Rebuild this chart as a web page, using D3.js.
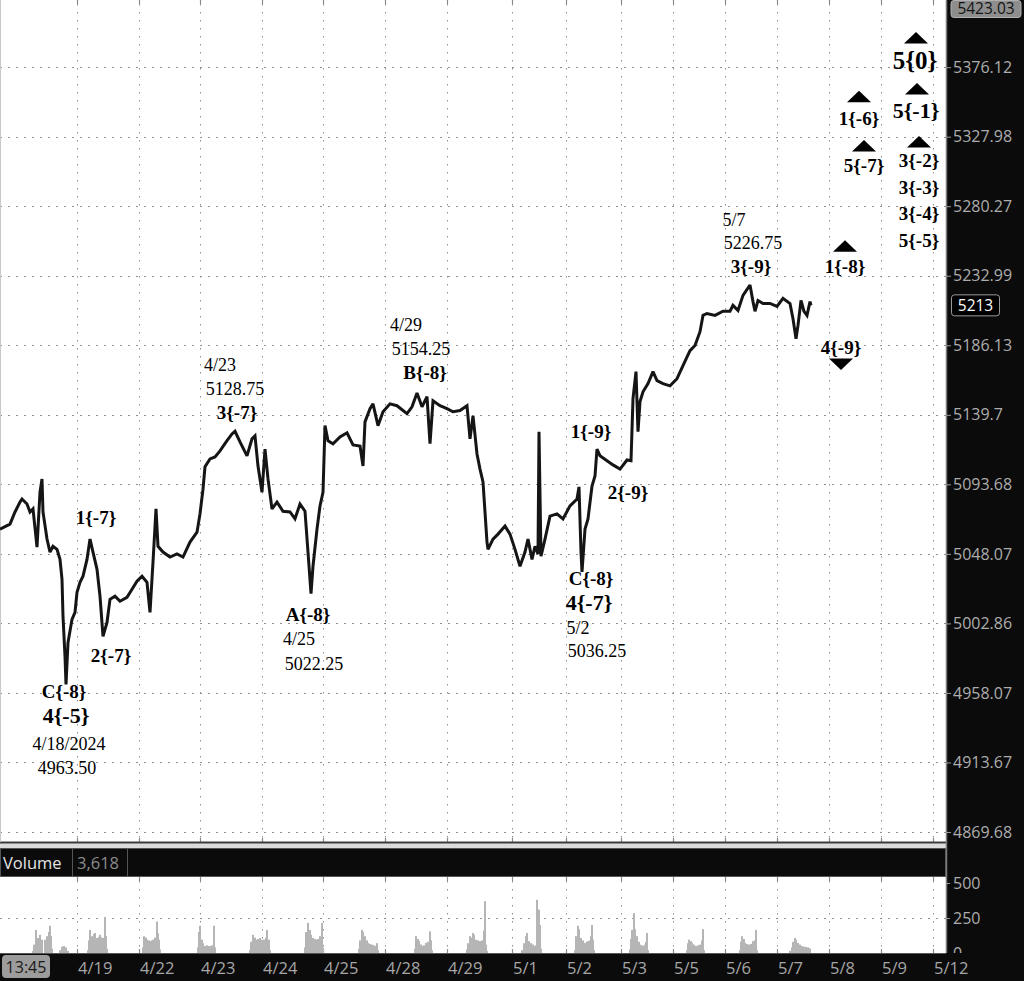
<!DOCTYPE html>
<html><head><meta charset="utf-8">
<script src="https://cdn.jsdelivr.net/npm/d3@7"></script>
<style>
html,body{margin:0;padding:0;background:#0b0b0b;}
svg{display:block;}
</style></head><body>
<svg id="chart" width="1024" height="981"></svg>
<script>
// ---------------- DATA ----------------
const barIndex = [
  0,10,15,20,22,27,30,33,37,40,
  42,43,47,50,53,57,60,62,63,65,
  66,68,72,75,77,80,83,87,90,93,
  97,100,103,107,110,115,120,127,132,137,
  142,147,150,153,156,158,163,170,177,183,
  190,197,200,203,205,210,215,220,227,232,
  235,240,247,252,255,258,262,265,268,272,
  277,283,290,295,300,305,308,311,313,317,
  320,323,325,328,333,340,347,353,360,363,
  365,370,373,378,383,390,397,407,412,417,
  422,427,430,433,440,447,453,460,467,470,
  473,477,480,483,487,488,493,498,505,510,
  515,520,525,528,532,535,538,539,541,545,
  550,557,563,570,577,579,581,582,585,588,
  592,595,597,600,607,613,620,627,631,633,
  636,638,640,643,648,653,657,663,670,677,
  683,690,695,700,703,707,715,723,730,733,
  738,743,750,753,755,758,763,770,777,783,
  790,793,796,798,801,804,807,810,811
];
const price = [
  5064.25,5067.5,5075.5,5082,5084,5080.75,5075.5,5077.5,5052.5,5088.5,
  5097.25,5075.5,5057.75,5049.25,5053,5051,5044.5,5031.5,5007.5,4981.5,
  4963.5,4990.5,5005.5,5010,5023,5029.5,5033.5,5044.5,5057.75,5049.25,
  5038,5020.5,4994.5,5003.5,5018.5,5020.5,5017.25,5019.75,5025,5030.25,
  5033.5,5029.5,5010,5042.75,5077.5,5053,5049.25,5046,5048,5046,
  5055.75,5062.25,5074.25,5090.5,5105.25,5110.5,5111.75,5115.75,5122.5,5127,
  5128.75,5121.75,5112.5,5123.75,5125.75,5105.75,5088.5,5117,5097.25,5077.5,
  5082,5076,5075.5,5071,5080.75,5076,5049.25,5022.25,5040,5064.25,
  5079.5,5088.5,5132.5,5122.5,5120.5,5125,5127.75,5119.75,5119,5105.75,
  5135,5143.75,5147,5132.5,5141.75,5147,5145.75,5140.5,5145,5154.25,
  5145,5151.75,5120.5,5149,5145.75,5143.75,5141.75,5142.5,5145.75,5123.75,
  5139,5113.75,5103.75,5095.25,5055.75,5051,5057.75,5061,5066.25,5061,
  5051,5040,5049.25,5057.75,5044.5,5053,5048,5128.5,5046.5,5057.75,
  5072.75,5074.25,5071,5079.5,5084,5092,5049.25,5036.25,5064.25,5071,
  5092.5,5099.25,5117,5112.5,5109.25,5106.5,5103.75,5109.75,5109.25,5150.5,
  5168.5,5128.5,5148.5,5155,5160.5,5168.5,5162.5,5160.5,5159,5163.75,
  5172.5,5182.5,5186,5195.25,5206.25,5207.5,5206.25,5209,5209,5213,
  5209.5,5219.75,5226.75,5215.5,5209,5216.25,5214.25,5214.25,5212.25,5217.75,
  5214.25,5204,5190.5,5199.5,5216.25,5209,5206.25,5215.5,5213
];
const priceTicks = [4869.68,4913.67,4958.07,5002.86,5048.07,5093.68,5139.7,5186.13,5232.99,5280.27,5327.98,5376.12];
const priceTop = 5423.03;
const lastPrice = 5213;

const dateLabels = ["4/19","4/22","4/23","4/24","4/25","4/28","4/29","5/1","5/2","5/3","5/5","5/6","5/7","5/8","5/9","5/12"];
const dateIndex  = [77,139,200,262,323,385,447,512,566,621,673,725,777,829,881,933];
const timeLabel = "13:45";

const volIndex = [
  33,34,36,38,40,42,45,47,49,50,51,52,
  60,62,64,66,68,
  88,89,90,92,94,95,97,99,100,102,103,105,106,107,
  143,144,146,147,149,150,152,153,155,157,158,159,160,
  198,199,200,202,203,205,207,208,210,212,214,215,
  250,251,253,255,256,258,260,262,264,266,267,269,270,
  305,306,308,310,311,313,315,316,318,320,322,323,
  359,360,362,363,365,367,368,370,372,374,376,377,378,
  415,416,418,419,421,422,424,426,428,430,431,432,
  467,468,470,471,473,474,476,478,480,482,484,485,486,487,
  522,524,526,527,529,531,533,535,536,537,538,539,540,541,
  575,576,578,579,581,583,585,587,588,590,591,592,593,594,
  630,631,632,633,634,635,637,639,640,642,643,645,646,647,648,
  687,688,689,691,692,694,696,698,700,701,702,703,704,
  740,741,742,744,745,747,749,751,753,754,755,756,757,
  790,792,793,795,796,798,800,802,804,806,808,809,810
];
const volValue = [
  15,60,165,107,130,95,95,120,150,195,120,30,
  20,45,50,40,15,
  20,90,165,120,135,143,107,115,130,110,107,257,120,30,
  40,120,110,95,90,85,90,95,110,225,140,95,25,
  40,150,195,95,70,50,55,50,50,55,195,40,
  20,80,130,110,95,100,107,95,95,110,165,95,20,
  40,150,215,165,130,107,100,95,100,120,215,40,
  30,90,165,150,120,90,72,65,60,55,50,70,20,
  30,120,100,85,60,50,55,72,80,155,90,20,
  25,70,120,110,143,130,95,90,85,90,160,370,60,15,
  20,70,120,143,85,70,60,50,55,380,120,310,200,30,
  20,120,195,170,107,90,72,80,85,90,120,200,95,20,
  25,100,165,140,285,170,120,80,60,55,50,60,80,143,20,
  20,70,95,85,72,60,50,55,60,55,90,170,20,
  20,80,120,100,72,65,60,65,85,75,90,165,20,
  15,40,80,107,95,72,60,50,45,43,40,35,30
];
const volTicks = [0,250,500];
const lastVolume = "3,618";

// wave annotations: text, bar index (centre), price at baseline, size class
const noteText  = ["1{-7}","2{-7}","C{-8}","4{-5}","4/18/2024","4963.50",
                   "4/23","5128.75","3{-7}",
                   "A{-8}","4/25","5022.25",
                   "4/29","5154.25","B{-8}",
                   "1{-9}","2{-9}","C{-8}","4{-7}","5/2","5036.25",
                   "5/7","5226.75","3{-9}",
                   "1{-8}","4{-9}","5{-7}","1{-6}","5{0}","5{-1}","3{-2}","3{-3}","3{-4}","5{-5}"];
const noteIndex = [96,111,64,66,69,67,
                   220,235,237,
                   308,299,314,
                   406,421,425,
                   591,628,591,589,578,597,
                   734,753,751,
                   845,841,864,859,915,916,919,919,919,919];
const notePrice = [5067.5,4977.7,4955.1,4939.1,4921.8,4906.5,
                   5169.2,5153.1,5137.0,
                   5004.2,4988.6,4973.1,
                   5196.0,5179.9,5163.8,
                   5124.4,5084.0,5027.7,5011.4,4995.8,4980.9,
                   5266.6,5250.9,5234.6,
                   5234.6,5180.6,5303.5,5336.1,5374.9,5340.9,5307.1,5288.6,5270.7,5252.3];
const noteKind  = ["b","b","b","B","r","r",
                   "r","r","b",
                   "b","r","r",
                   "r","r","b",
                   "b","b","b","B","r","r",
                   "r","r","b",
                   "b","b","b","b","X","B","b","b","b","b"];

// projection arrows: index, apex price, direction
const arrowIndex = [845,841,864,859,916,917,919];
const arrowPrice = [5257.1,5177.3,5325.7,5359.7,5400.7,5365.2,5328.5];
const arrowDir   = ["up","down","up","up","up","up","up"];

// ---------------- LAYOUT ----------------
const W = 1024, H = 981;
const plotL = 0, plotR = 946;
const priceTopPx = 0, priceBotPx = 832, paneBot = 842;
const volTopPx = 877, volBotPx = 953;

const svg = d3.select("#chart");
const x = d3.scaleLinear().domain([0, 946]).range([plotL, plotR]);
const y = d3.scaleLog().domain([priceTicks[0], priceTop]).range([priceBotPx, priceTopPx]);
const yv = d3.scaleLinear().domain([0, 500]).range([volBotPx, 883]);

// backgrounds
svg.append("rect").attr("width", W).attr("height", H).attr("fill", "#0b0b0b");
svg.append("rect").attr("x", 0).attr("y", 0).attr("width", plotR).attr("height", paneBot).attr("fill", "#fff");
svg.append("rect").attr("x", 0).attr("y", paneBot).attr("width", plotR).attr("height", 6).attr("fill", "#dcdcdc");
svg.append("rect").attr("x", 0).attr("y", volTopPx).attr("width", plotR).attr("height", volBotPx - volTopPx).attr("fill", "#fff");

const gridCol = "#8f8f8f";
// horizontal grid (price)
svg.append("g").selectAll("line").data(priceTicks).join("line")
  .attr("x1", plotL).attr("x2", plotR)
  .attr("y1", d => Math.round(y(d)) + 0.5).attr("y2", d => Math.round(y(d)) + 0.5)
  .attr("stroke", gridCol).attr("stroke-width", 1).attr("stroke-dasharray", "2,6");
// vertical grid (price pane + volume pane)
const vg = svg.append("g");
vg.selectAll("line.p").data(dateIndex).join("line").attr("class", "p")
  .attr("x1", d => Math.round(x(d)) + 0.5).attr("x2", d => Math.round(x(d)) + 0.5)
  .attr("y1", 4).attr("y2", paneBot - 4)
  .attr("stroke", gridCol).attr("stroke-dasharray", "1.5,6.5");
vg.selectAll("line.v").data(dateIndex).join("line").attr("class", "v")
  .attr("x1", d => Math.round(x(d)) + 0.5).attr("x2", d => Math.round(x(d)) + 0.5)
  .attr("y1", volTopPx + 4).attr("y2", volBotPx - 4)
  .attr("stroke", gridCol).attr("stroke-dasharray", "1.5,6.5");
// small solid ticks at pane edges
[[0, 4], [paneBot - 4, paneBot], [volTopPx, volTopPx + 4], [volBotPx - 4, volBotPx]].forEach(([a, b]) => {
  svg.append("g").selectAll("line").data(dateIndex).join("line")
    .attr("x1", d => Math.round(x(d)) + 0.5).attr("x2", d => Math.round(x(d)) + 0.5)
    .attr("y1", a).attr("y2", b).attr("stroke", "#8a8a8a").attr("stroke-width", 1.2);
});
// volume 250 grid
svg.append("line").attr("x1", plotL).attr("x2", plotR)
  .attr("y1", Math.round(yv(250)) + 0.5).attr("y2", Math.round(yv(250)) + 0.5)
  .attr("stroke", gridCol).attr("stroke-dasharray", "2,6");

// pane separators
svg.append("line").attr("x1", 0).attr("x2", plotR).attr("y1", paneBot + 0.5).attr("y2", paneBot + 0.5)
  .attr("stroke", "#3c3c3c").attr("stroke-width", 2);
svg.append("line").attr("x1", 0.5).attr("x2", 0.5).attr("y1", 0).attr("y2", paneBot)
  .attr("stroke", "#c8c8c8");

// ---------------- PRICE LINE ----------------
const pts = barIndex.map((b, i) => ({ b, p: price[i] })).filter(d => d.p != null);
svg.append("path").datum(pts)
  .attr("d", d3.line().x(d => x(d.b)).y(d => y(d.p)))
  .attr("fill", "none").attr("stroke", "#151515").attr("stroke-width", 3)
  .attr("stroke-linejoin", "miter").attr("stroke-miterlimit", 2.5);

// ---------------- VOLUME ----------------
svg.append("g").selectAll("rect").data(volIndex.map((b, i) => ({ b, v: volValue[i] }))).join("rect")
  .attr("x", d => x(d.b) - 1).attr("width", 2)
  .attr("y", d => yv(d.v)).attr("height", d => yv(0) - yv(d.v))
  .attr("fill", "#b5b5b5");

// volume header bar
const hdr = svg.append("g");
hdr.append("rect").attr("x", 0.5).attr("y", 848.5).attr("width", plotR - 1).attr("height", 28)
  .attr("fill", "#0b0b0b").attr("stroke", "#555");
hdr.append("line").attr("x1", 72.5).attr("x2", 72.5).attr("y1", 849).attr("y2", 876).attr("stroke", "#555");
hdr.append("line").attr("x1", 127.5).attr("x2", 127.5).attr("y1", 849).attr("y2", 876).attr("stroke", "#555");
hdr.append("text").attr("x", 3).attr("y", 869).text("Volume")
  .attr("fill", "#e4e4e4").attr("font-family", "Open Sans").attr("font-size", 16.5);
hdr.append("text").attr("x", 77).attr("y", 869).text(lastVolume)
  .attr("fill", "#8c8c8c").attr("font-family", "Open Sans").attr("font-size", 16.5);

// ---------------- RIGHT AXIS ----------------
svg.append("rect").attr("x", plotR).attr("y", 0).attr("width", W - plotR).attr("height", H).attr("fill", "#0b0b0b");
svg.append("line").attr("x1", plotR + 0.5).attr("x2", plotR + 0.5).attr("y1", 0).attr("y2", volBotPx)
  .attr("stroke", "#7a7a7a").attr("stroke-width", 1.5);

const yAxis = d3.axisRight(y).tickValues(priceTicks).tickFormat(d => String(d)).tickSize(5).tickPadding(2);
const gy = svg.append("g").attr("transform", `translate(${plotR},0)`).call(yAxis);
gy.select(".domain").remove();
gy.selectAll(".tick line").attr("stroke", "#9a9a9a");
gy.selectAll(".tick text").attr("fill", "#adadad").attr("font-family", "Open Sans").attr("font-size", 16);

// top label box
const topG = svg.append("g");
topG.append("rect").attr("x", 951).attr("y", 0.5).attr("width", 70).attr("height", 17).attr("rx", 3)
  .attr("fill", "#8e8e8e").attr("stroke", "#b0b0b0");
topG.append("text").attr("x", 986).attr("y", y(priceTop) + 14).attr("text-anchor", "middle")
  .text(String(priceTop)).attr("fill", "#141414").attr("font-family", "Open Sans").attr("font-size", 15.5);

// last price box
const lp = svg.append("g");
lp.append("rect").attr("x", 951.5).attr("y", y(lastPrice) - 10.5).attr("width", 48).attr("height", 21).attr("rx", 3)
  .attr("fill", "#000").attr("stroke", "#9a9a9a");
lp.append("text").attr("x", 975.5).attr("y", y(lastPrice) + 5.5).attr("text-anchor", "middle")
  .text(String(lastPrice)).attr("fill", "#fff").attr("font-family", "Open Sans").attr("font-size", 15.5);

// volume axis
const vAxis = d3.axisRight(yv).tickValues(volTicks).tickSize(4).tickPadding(3);
const gv = svg.append("g").attr("transform", `translate(${plotR},0)`).call(vAxis);
gv.select(".domain").remove();
gv.selectAll(".tick line").attr("stroke", "#9a9a9a");
gv.selectAll(".tick text").attr("fill", "#adadad").attr("font-family", "Open Sans").attr("font-size", 16);

// ---------------- BOTTOM AXIS ----------------
svg.append("rect").attr("x", 0).attr("y", volBotPx).attr("width", W).attr("height", H - volBotPx).attr("fill", "#0b0b0b");
svg.append("line").attr("x1", 0).attr("x2", plotR).attr("y1", volBotPx + 0.5).attr("y2", volBotPx + 0.5).attr("stroke", "#555");
svg.append("g").selectAll("text").data(dateLabels).join("text")
  .attr("x", (d, i) => x(dateIndex[i]) + 1).attr("y", 974)
  .text(d => d).attr("fill", "#a6a6a6").attr("font-family", "Open Sans").attr("font-size", 16.5);
svg.append("rect").attr("x", 2).attr("y", 955).attr("width", 48).attr("height", 23).attr("rx", 4)
  .attr("fill", "#9c9c9c");
svg.append("text").attr("x", 26).attr("y", 973).attr("text-anchor", "middle").text(timeLabel)
  .attr("fill", "#1a1a1a").attr("font-family", "Open Sans").attr("font-size", 16);

// ---------------- ANNOTATIONS ----------------
const sizeOf = { r: 18, b: 19, B: 22, X: 25 };
svg.append("g").selectAll("text").data(noteText).join("text")
  .attr("x", (d, i) => x(noteIndex[i])).attr("y", (d, i) => y(notePrice[i]))
  .attr("text-anchor", "middle")
  .attr("font-family", "Liberation Serif")
  .attr("font-weight", (d, i) => noteKind[i] === "r" ? "normal" : "bold")
  .attr("font-size", (d, i) => sizeOf[noteKind[i]])
  .attr("fill", "#000")
  .text(d => d);

svg.append("g").selectAll("path").data(arrowIndex).join("path")
  .attr("d", (d, i) => {
    const cx = x(d), cy = y(arrowPrice[i]);
    return arrowDir[i] === "up"
      ? `M${cx},${cy}L${cx + 12},${cy + 11.5}L${cx - 12},${cy + 11.5}Z`
      : `M${cx - 12},${cy}L${cx + 12},${cy}L${cx},${cy + 11.5}Z`;
  })
  .attr("fill", "#000");
</script>
</body></html>
